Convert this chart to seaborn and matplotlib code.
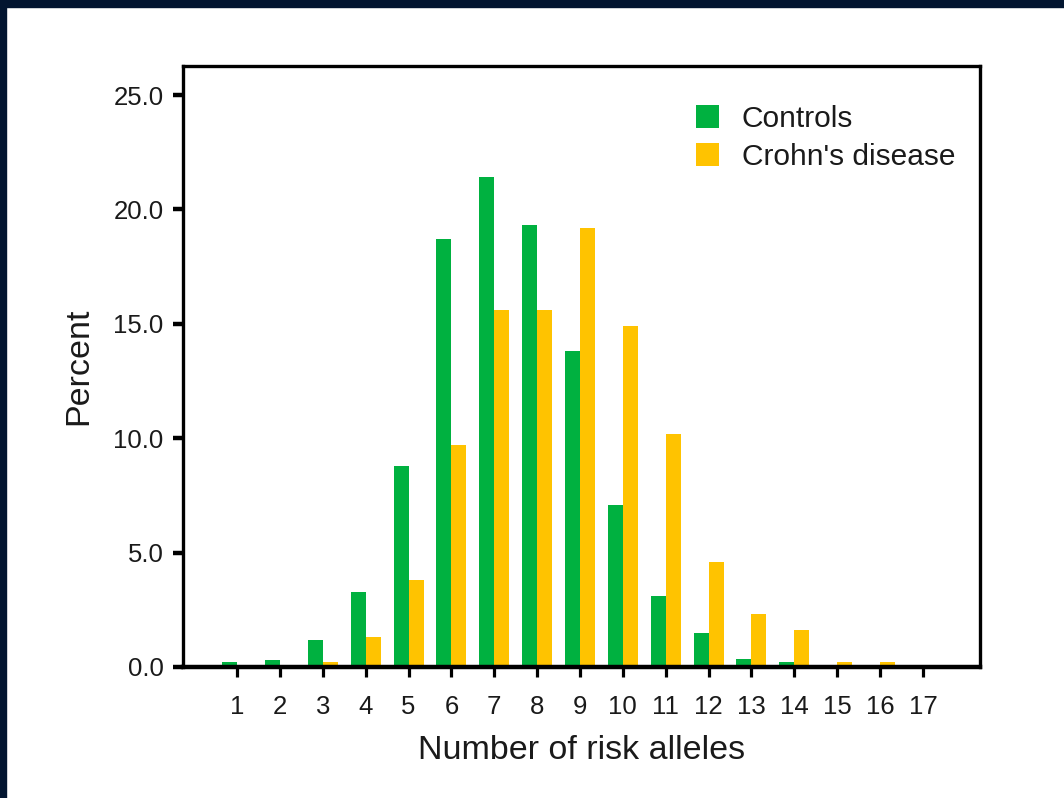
import pandas as pd
import matplotlib
matplotlib.use("Agg")
import matplotlib.pyplot as plt
import seaborn as sns
from matplotlib.patches import Rectangle

# --- DATA ---
alleles = list(range(1, 18))
controls = [0.2, 0.3, 1.2, 3.3, 8.8, 18.7, 21.4, 19.3, 13.8, 7.1, 3.1, 1.5, 0.35, 0.2, 0.0, 0.0, 0.0]
crohns = [0.0, 0.0, 0.2, 1.3, 3.8, 9.7, 15.6, 15.6, 19.2, 14.9, 10.2, 4.6, 2.3, 1.6, 0.2, 0.2, 0.0]
groups = ["Controls", "Crohn's disease"]
colors = ["#00b140", "#ffc300"]
y_ticks = [0, 5, 10, 15, 20, 25]

df = pd.DataFrame({
    "alleles": alleles * 2,
    "percent": controls + crohns,
    "group": [groups[0]] * len(alleles) + [groups[1]] * len(alleles),
})

sns.set_style("white")
plt.rcParams["font.family"] = ["Liberation Sans", "DejaVu Sans"]
text_color = "#1a1a1a"

fig = plt.figure(figsize=(10.64, 7.98), dpi=100)
# dark frame at top/left of the original screenshot
fig.patches.append(Rectangle((0, 0), 6 / 1064, 1, transform=fig.transFigure,
                             color="#021530", zorder=10))
fig.patches.append(Rectangle((0, 1 - 7 / 798), 1, 7 / 798, transform=fig.transFigure,
                             color="#021530", zorder=10))

ax = fig.add_axes([183 / 1064, 1 - 667 / 798, (980 - 183) / 1064, (667 - 66) / 798])
sns.barplot(data=df, x="alleles", y="percent", hue="group", hue_order=groups,
            palette=colors, width=0.7, saturation=1, ax=ax, linewidth=0,
            order=alleles)

ax.set_xlim(-1.26, 17.33)
ax.set_ylim(0, 26.27)
ax.set_yticks(y_ticks)
ax.set_yticklabels([f"{v:.1f}" for v in y_ticks])

for side in ["left", "right", "top", "bottom"]:
    ax.spines[side].set_visible(True)
    ax.spines[side].set_linewidth(2.4)
    ax.spines[side].set_color("black")
ax.spines["bottom"].set_linewidth(3.2)

ax.tick_params(axis="both", direction="out", color="black",
               labelsize=18.5, labelcolor=text_color, bottom=True, left=True)
ax.tick_params(axis="x", length=7.5, width=2.3, pad=13)
ax.tick_params(axis="y", length=7, width=3.2, pad=7)

ax.set_xlabel("Number of risk alleles", fontsize=24.5, color=text_color, labelpad=11)
ax.set_ylabel("Percent", fontsize=24.5, color=text_color, labelpad=14)

leg = ax.legend(loc="upper right", frameon=False, fontsize=21.5,
                handlelength=0.8, handleheight=0.8, handletextpad=0.75,
                labelspacing=0.33, borderaxespad=0.0,
                bbox_to_anchor=(0.984, 0.955))
for t in leg.get_texts():
    t.set_color(text_color)

fig.savefig("out.png", dpi=100, facecolor="white")
